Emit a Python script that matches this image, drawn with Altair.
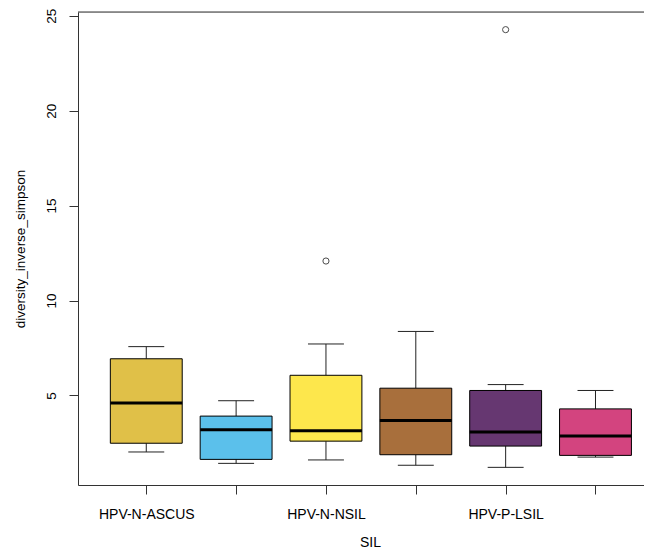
import altair as alt
import pandas as pd

groups = ["HPV-N-ASCUS", "HPV-N-LSIL", "HPV-N-NSIL", "HPV-P-ASCUS", "HPV-P-LSIL", "HPV-P-NSIL"]
lower = [2.02, 1.42, 1.60, 1.32, 1.21, 1.75]
q1 = [2.48, 1.63, 2.59, 1.875, 2.33, 1.84]
median = [4.60, 3.19, 3.14, 3.68, 3.07, 2.86]
q3 = [6.93, 3.91, 6.06, 5.38, 5.26, 4.29]
upper = [7.57, 4.72, 7.71, 8.37, 5.57, 5.26]
out_group = ["HPV-N-NSIL", "HPV-P-LSIL"]
out_value = [12.08, 24.27]
colors = ["#E0C048", "#5BC0EB", "#FDE74C", "#A86F3C", "#663771", "#D3447F"]
y_ticks = [5, 10, 15, 20, 25]

pos_of = {g: i + 1 for i, g in enumerate(groups)}
df = pd.DataFrame({"group": groups, "pos": [pos_of[g] for g in groups],
                   "lower": lower, "q1": q1, "median": median, "q3": q3, "upper": upper})
odf = pd.DataFrame({"group": out_group, "value": out_value})
odf["pos"] = [pos_of[g] for g in out_group]

W, H = 566, 473
FONT = "Liberation Sans"

xscale = alt.Scale(domain=[0.24, 6.54], nice=False, zero=False)
yscale = alt.Scale(domain=[0.28, 25.2], nice=False, zero=False)

names_expr = "[" + ",".join("'" + g + "'" for g in groups) + "]"
label_expr = "datum.value % 2 == 1 ? " + names_expr + "[datum.value - 1] : ''"

xaxis = alt.Axis(values=list(range(1, len(groups) + 1)), labelExpr=label_expr, title="SIL",
                 grid=False, tickSize=9, tickColor="#333", domainColor="#333",
                 labelFont=FONT, labelFontSize=14, labelColor="black", labelPadding=13,
                 labelBaseline="top", labelOverlap=False, labelFlush=False,
                 titleFont=FONT, titleFontSize=14, titleFontWeight="normal", titleColor="black",
                 titleX=292, titleY=61, titleAlign="center", titleBaseline="alphabetic")
yaxis = alt.Axis(values=y_ticks, title="diversity_inverse_simpson", grid=False,
                 tickSize=9, tickColor="#333", domainColor="#333",
                 labelFont=FONT, labelFontSize=13.5, labelColor="black", labelAngle=270,
                 labelAlign="center", labelBaseline="alphabetic", labelPadding=13.5,
                 labelFlush=False, labelOverlap=False,
                 titleFont=FONT, titleFontSize=13.5, titleFontWeight="normal", titleColor="black",
                 titleAngle=270, titleX=-54, titleY=H / 2, titleAlign="center",
                 titleBaseline="alphabetic")


def X(f):
    return alt.X(f, type="quantitative", scale=xscale, axis=xaxis)


def Y(f):
    return alt.Y(f, type="quantitative", scale=yscale, axis=yaxis)


base = alt.Chart(df).transform_calculate(
    xl="datum.pos - 0.4", xr="datum.pos + 0.4",
    cl="datum.pos - 0.2", cr="datum.pos + 0.2")

whisk_lo = base.mark_rule(color="#222", strokeWidth=1).encode(x=X("pos"), y=Y("lower"), y2="q1")
whisk_hi = base.mark_rule(color="#222", strokeWidth=1).encode(x=X("pos"), y=Y("q3"), y2="upper")
cap_lo = base.mark_rule(color="#222", strokeWidth=1).encode(x=X("cl"), x2="cr", y=Y("lower"))
cap_hi = base.mark_rule(color="#222", strokeWidth=1).encode(x=X("cl"), x2="cr", y=Y("upper"))
boxes = base.mark_rect(stroke="black", strokeWidth=1).encode(
    x=X("xl"), x2="xr", y=Y("q1"), y2="q3",
    color=alt.Color("group:N", scale=alt.Scale(domain=groups, range=colors), legend=None))
medians = base.mark_rule(color="black", strokeWidth=3).encode(x=X("xl"), x2="xr", y=Y("median"))
outliers = alt.Chart(odf).mark_point(shape="circle", filled=False, color="black",
                                     size=38, strokeWidth=1).encode(x=X("pos"), y=Y("value"))
top_border = alt.Chart(pd.DataFrame({"a": [0]})).mark_rule(color="#333", strokeWidth=1).encode(
    x=alt.value(0), x2=alt.value(W), y=alt.value(0))

chart = alt.layer(whisk_lo, whisk_hi, cap_lo, cap_hi, boxes, medians, outliers, top_border).properties(
    width=W, height=H,
    autosize=alt.AutoSizeParams(type="none"),
    padding={"left": 70, "top": 4, "right": 0, "bottom": 63},
    background="white",
).configure_view(stroke=None).configure(font=FONT)

chart.save("out.html", embed_options={"renderer": "svg", "actions": False})
